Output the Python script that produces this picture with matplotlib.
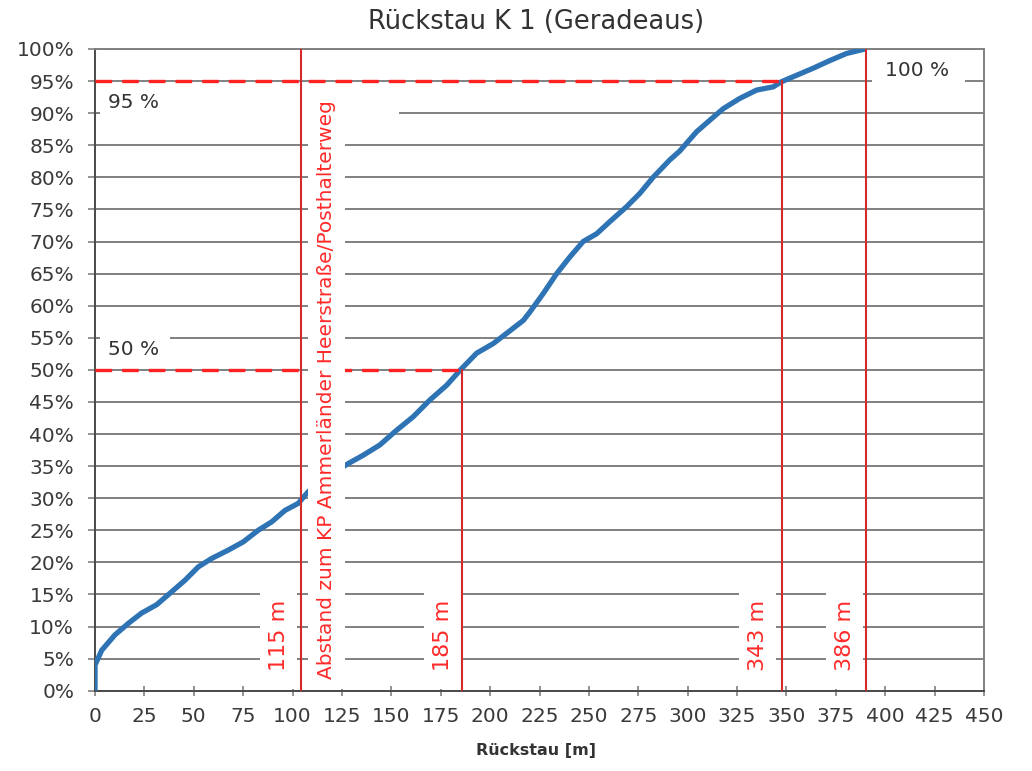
import matplotlib
matplotlib.use("Agg")
import matplotlib.pyplot as plt
from matplotlib.patches import Rectangle

# Summenlinie Rückstau (gelesen aus der Vorlage)
rueckstau_m = [0, 0, 3.4, 10.1, 16.9, 23.6, 31.2, 38, 45.5, 52.3, 59, 67.4, 75.1, 82.6,
               89.4, 96.2, 102.9, 107.9, 112.5, 117.5, 122.5, 128.2, 135.8, 144.2, 152.7,
               161.1, 169.5, 178, 185.6, 193.2, 201.6, 208.4, 216.8, 220.1, 226.9, 233.7,
               240.4, 247.1, 253.9, 260.6, 269, 275.8, 282.5, 290.9, 296, 304.5, 311.2,
               318, 326.4, 334.9, 343.3, 347.5, 355.1, 363.5, 372, 380.4, 389.7]
anteil_pct = [0, 4, 6.3, 8.7, 10.5, 12.1, 13.4, 15.2, 17.2, 19.3, 20.6, 21.9, 23.2, 25,
              26.3, 28.1, 29.2, 31, 32.1, 33.2, 34.3, 35.4, 36.7, 38.3, 40.6,
              42.7, 45.3, 47.6, 50.2, 52.6, 54.1, 55.7, 57.7, 59, 61.9, 65,
              67.6, 70, 71.2, 73.1, 75.4, 77.5, 80, 82.7, 84.1, 87.1, 88.9,
              90.7, 92.3, 93.6, 94.1, 94.9, 95.9, 97, 98.2, 99.3, 100]

# senkrechte Markierungen
marker_x = [104.3, 186, 347.5, 390.5]
marker_top = [100, 50, 95, 100]
marker_labels = ["115 m", "185 m", "343 m", "386 m"]
marker_label_x = [93, 176, 335.5, 379.5]

# Perzentile (gestrichelt)
pct_levels = [95, 50]
pct_end_x = [347.5, 186]

x_ticks = list(range(0, 451, 25))
y_ticks = list(range(0, 101, 5))

title = "Rückstau K 1 (Geradeaus)"
x_title = "Rückstau [m]"
abstand_text = "Abstand zum KP Ammerländer Heerstraße/Posthalterweg"

blue = "#2e74b5"
red_line = "#d42a2a"
red_dash = "#ff2222"
red_text = "#ff2a2a"
grid_col = "#808080"
text_col = "#333333"

fig = plt.figure(figsize=(10.32, 7.71), dpi=100)
ax = fig.add_axes([95 / 1032, 80.3 / 771, 889 / 1032, 641.7 / 771])

ax.set_xlim(0, 450)
ax.set_ylim(0, 100)
ax.set_xticks(x_ticks)
ax.set_xticklabels([str(v) for v in x_ticks])
ax.set_yticks(y_ticks)
ax.set_yticklabels(["%d%%" % v for v in y_ticks])
ax.tick_params(axis="both", labelsize=14.5, labelcolor="#3a3a3a", color=grid_col, width=1.2)
ax.tick_params(axis="y", direction="inout", length=10, pad=10)
ax.tick_params(axis="x", direction="inout", length=7, pad=8)

ax.yaxis.grid(True, color=grid_col, lw=1.4, zorder=1)
ax.set_axisbelow(True)
for s in ["left", "bottom"]:
    ax.spines[s].set_color("#4a4a4a")
    ax.spines[s].set_linewidth(1.4)
for s in ["top", "right"]:
    ax.spines[s].set_color(grid_col)
    ax.spines[s].set_linewidth(1.4)

# weiße Textfelder, die das Gitter überdecken
def white_box(x0, y0, x1, y1, z=2):
    ax.add_patch(Rectangle((x0, y0), x1 - x0, y1 - y0, facecolor="white",
                           edgecolor="none", zorder=z))

white_box(2.5, 88.9, 154, 93.9)
white_box(2.5, 50.7, 38, 55.7)
white_box(393.2, 93.3, 440.3, 99.6)
for lx in marker_label_x:
    white_box(lx - 9.3, 0.3, lx + 9.3, 18)

# Summenlinie
ax.plot(rueckstau_m, anteil_pct, color=blue, lw=3.8, solid_capstyle="butt", zorder=3)

# senkrechte Linien
for mx, top in zip(marker_x, marker_top):
    ax.plot([mx, mx], [0, top], color=red_line, lw=1.5, zorder=4)

# gestrichelte Perzentile
for lvl, xe in zip(pct_levels, pct_end_x):
    ax.plot([0, xe], [lvl, lvl], color=red_dash, lw=2.4, dashes=(5, 3), zorder=4)

# Abstand-Feld überdeckt Kurve und Linien
white_box(107.6, 0.3, 126.3, 93.3, z=5)
ax.text(117, 46.9, abstand_text, rotation=90, ha="center", va="center",
        fontsize=14.5, color=red_text, zorder=6)

for lx, lab in zip(marker_label_x, marker_labels):
    ax.text(lx, 8.6, lab, rotation=90, ha="center", va="center",
            fontsize=16, color=red_text, zorder=6)

ax.text(6.5, 91.6, "95 %", ha="left", va="center", fontsize=14.5, color=text_col, zorder=6)
ax.text(6.5, 53.1, "50 %", ha="left", va="center", fontsize=14.5, color=text_col, zorder=6)
ax.text(400, 96.7, "100 %", ha="left", va="center", fontsize=14.5, color=text_col, zorder=6)

fig.text(536 / 1032, 1 - 22 / 771, title, ha="center", va="center",
         fontsize=18.5, color=text_col)
fig.text(536 / 1032, 1 - 750 / 771, x_title, ha="center", va="center",
         fontsize=11.5, fontweight="bold", color=text_col)

fig.savefig("out.png", dpi=100, facecolor="white")
